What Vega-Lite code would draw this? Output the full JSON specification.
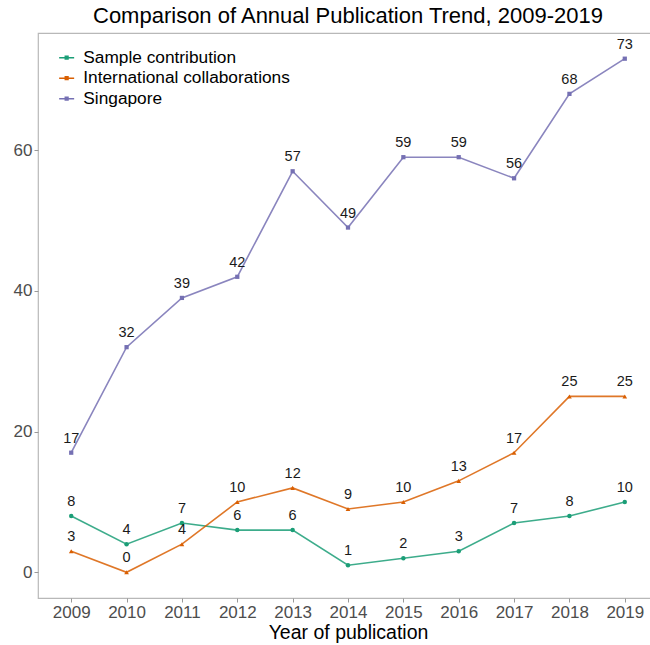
{
  "$schema": "https://vega.github.io/schema/vega-lite/v6.json",
  "autosize": {"type": "none"},
  "padding": {"left": 38, "top": 33, "right": 0, "bottom": 47},
  "width": 620,
  "height": 565,
  "background": "white",
  "config": {
    "font": "Liberation Sans",
    "view": {"stroke": "#B8B8B8", "strokeWidth": 1.2}
  },
  "title": {
    "text": "Comparison of Annual Publication Trend, 2009-2019",
    "fontSize": 22,
    "fontWeight": "normal",
    "color": "#000000",
    "anchor": "middle",
    "offset": 5
  },
  "data": {
    "values": [
      {"year": "2009", "series": "Sample contribution", "value": 8},
      {"year": "2010", "series": "Sample contribution", "value": 4},
      {"year": "2011", "series": "Sample contribution", "value": 7},
      {"year": "2012", "series": "Sample contribution", "value": 6},
      {"year": "2013", "series": "Sample contribution", "value": 6},
      {"year": "2014", "series": "Sample contribution", "value": 1},
      {"year": "2015", "series": "Sample contribution", "value": 2},
      {"year": "2016", "series": "Sample contribution", "value": 3},
      {"year": "2017", "series": "Sample contribution", "value": 7},
      {"year": "2018", "series": "Sample contribution", "value": 8},
      {"year": "2019", "series": "Sample contribution", "value": 10},
      {"year": "2009", "series": "International collaborations", "value": 3},
      {"year": "2010", "series": "International collaborations", "value": 0},
      {"year": "2011", "series": "International collaborations", "value": 4},
      {"year": "2012", "series": "International collaborations", "value": 10},
      {"year": "2013", "series": "International collaborations", "value": 12},
      {"year": "2014", "series": "International collaborations", "value": 9},
      {"year": "2015", "series": "International collaborations", "value": 10},
      {"year": "2016", "series": "International collaborations", "value": 13},
      {"year": "2017", "series": "International collaborations", "value": 17},
      {"year": "2018", "series": "International collaborations", "value": 25},
      {"year": "2019", "series": "International collaborations", "value": 25},
      {"year": "2009", "series": "Singapore", "value": 17},
      {"year": "2010", "series": "Singapore", "value": 32},
      {"year": "2011", "series": "Singapore", "value": 39},
      {"year": "2012", "series": "Singapore", "value": 42},
      {"year": "2013", "series": "Singapore", "value": 57},
      {"year": "2014", "series": "Singapore", "value": 49},
      {"year": "2015", "series": "Singapore", "value": 59},
      {"year": "2016", "series": "Singapore", "value": 59},
      {"year": "2017", "series": "Singapore", "value": 56},
      {"year": "2018", "series": "Singapore", "value": 68},
      {"year": "2019", "series": "Singapore", "value": 73}
    ]
  },
  "encoding": {
    "x": {
      "field": "year",
      "type": "ordinal",
      "scale": {"type": "point", "padding": 0.6},
      "axis": {
        "title": "Year of publication",
        "titleFontSize": 19.5,
        "titleFontWeight": "normal",
        "titleColor": "#000000",
        "titlePadding": 3,
        "labelAngle": 0,
        "labelFontSize": 17,
        "labelColor": "#4D4D4D",
        "labelPadding": 2,
        "tickColor": "#999999",
        "tickSize": 4,
        "domain": false,
        "grid": false
      }
    },
    "y": {
      "field": "value",
      "type": "quantitative",
      "scale": {"domain": [-3.65, 76.65], "nice": false, "zero": false},
      "axis": {
        "title": null,
        "values": [0, 20, 40, 60],
        "labelFontSize": 17,
        "labelColor": "#4D4D4D",
        "labelPadding": 2,
        "tickColor": "#999999",
        "tickSize": 4,
        "domain": false,
        "grid": false
      }
    },
    "color": {
      "field": "series",
      "type": "nominal",
      "scale": {
        "domain": ["Sample contribution", "International collaborations", "Singapore"],
        "range": ["#1B9E77", "#D95F02", "#7570B3"]
      },
      "legend": {
        "title": null,
        "orient": "none",
        "legendX": 20,
        "legendY": 16,
        "labelFontSize": 17.3,
        "labelColor": "#000000",
        "labelLimit": 400,
        "symbolType": "M-1,0L1,0M-0.18,-0.18L0.18,-0.18L0.18,0.18L-0.18,0.18Z",
        "symbolSize": 225,
        "symbolStrokeWidth": 1.5,
        "symbolOpacity": 1,
        "rowPadding": 2.5,
        "labelOffset": 8
      }
    }
  },
  "layer": [
    {
      "mark": {"type": "line", "strokeWidth": 1.6, "opacity": 0.85},
      "encoding": {}
    },
    {
      "transform": [{"filter": "datum.series === 'Sample contribution'"}],
      "mark": {"type": "point", "filled": true, "size": 20, "opacity": 1, "shape": "circle"},
      "encoding": {}
    },
    {
      "transform": [{"filter": "datum.series === 'International collaborations'"}],
      "mark": {"type": "point", "filled": true, "size": 22, "opacity": 1, "shape": "triangle-up"},
      "encoding": {}
    },
    {
      "transform": [{"filter": "datum.series === 'Singapore'"}],
      "mark": {"type": "point", "filled": true, "size": 18, "opacity": 1, "shape": "square"},
      "encoding": {}
    },
    {
      "mark": {"type": "text", "fontSize": 14.5, "dy": -14, "baseline": "middle"},
      "encoding": {
        "text": {"field": "value", "type": "quantitative"},
        "color": {"value": "#1A1A1A"}
      }
    }
  ]
}
